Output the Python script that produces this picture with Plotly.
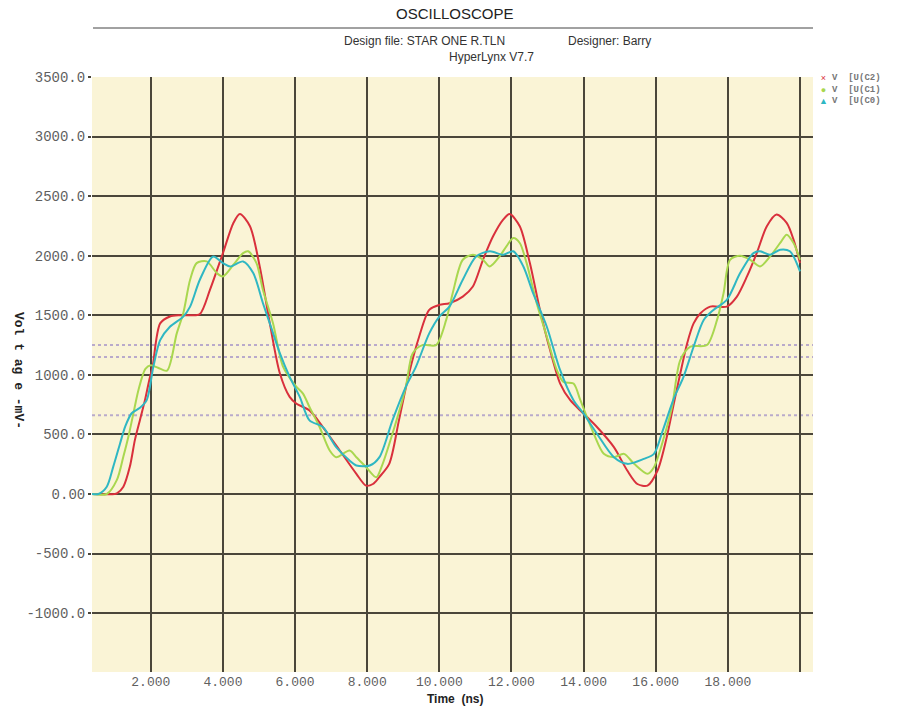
import plotly.graph_objects as go

# ---------------- data ----------------
t_c2 = [0.37, 1.0, 1.06, 1.24, 1.42, 1.56, 1.70, 1.84, 1.96, 2.05, 2.26, 2.53, 2.8, 3.1, 3.36, 3.64,
        4.0, 4.29, 4.47, 4.75, 5.02, 5.3, 5.58, 5.85, 6.04, 6.4, 6.77, 7.24, 7.7, 7.97, 8.16, 8.33,
        8.61, 8.88, 9.16, 9.44, 9.72, 10.0, 10.28, 10.65, 10.93, 11.21, 11.49, 11.77, 11.95, 12.23,
        12.51, 12.79, 13.07, 13.35, 13.63, 14.0, 14.37, 14.84, 15.21, 15.49, 15.77, 16.05, 16.3,
        16.5, 16.68, 16.87, 17.05, 17.24, 17.51, 17.97, 18.25, 18.53, 18.8, 19.08, 19.35, 19.63,
        19.82, 20.0]
v_c2 = [0, 0, 5, 61, 230, 454, 622, 790, 959, 1067, 1432, 1490, 1500, 1500, 1510, 1713,
        2022, 2275, 2350, 2247, 1910, 1432, 1011, 815, 758, 702, 562, 365, 169, 70, 84, 140,
        253, 618, 1011, 1320, 1545, 1587, 1601, 1657, 1742, 1966, 2163, 2303, 2350, 2247,
        1938, 1545, 1208, 927, 787, 674, 562, 393, 197, 84, 70, 197, 470,
        758, 1011, 1264, 1432, 1517, 1573, 1573, 1657, 1826, 2022, 2247, 2345, 2275,
        2135, 1938]

t_c1 = [0.37, 0.78, 1.06, 1.24, 1.38, 1.52, 1.66, 1.85, 2.0, 2.2, 2.45, 2.72, 2.9, 3.09, 3.27,
        3.55, 3.83, 4.0, 4.29, 4.56, 4.7, 4.93, 5.11, 5.39, 5.67, 6.04, 6.22, 6.4, 6.68, 6.96,
        7.14, 7.51, 7.7, 7.97, 8.25, 8.4, 8.7, 9.07, 9.26, 9.53, 9.91, 10.19, 10.37, 10.65, 10.93,
        11.21, 11.4, 11.67, 11.86, 12.05, 12.23, 12.42, 12.7, 12.98, 13.26, 13.44, 13.72, 13.91,
        14.28, 14.56, 14.84, 15.12, 15.4, 15.77, 15.95, 16.23, 16.45, 16.68, 16.96, 17.42, 17.7,
        17.88, 18.06, 18.34, 18.62, 18.89, 19.17, 19.45, 19.63, 19.82, 20.0]
v_c1 = [0, 0, 118, 314, 482, 680, 875, 1050, 1080, 1060, 1035, 1348, 1517, 1798, 1938,
        1952, 1854, 1826, 1924, 2022, 2037, 1938, 1713, 1432, 1067, 899, 843, 730, 562, 365,
        309, 365, 309, 225, 140, 230, 506, 899, 1180, 1250, 1250, 1461, 1685, 1966, 2008,
        1966, 1910, 1994, 2079, 2149, 2107, 1938, 1601, 1320, 1039, 941, 927, 787,
        506, 337, 309, 337, 253, 169, 225, 478, 730, 1123, 1236, 1250, 1461,
        1685, 1966, 2000, 1966, 1910, 1994, 2107, 2177, 2107, 1966]

t_c0 = [0.37, 0.55, 0.78, 0.96, 1.15, 1.29, 1.47, 1.70, 1.89, 2.07, 2.26, 2.53, 2.9, 3.09, 3.36,
        3.73, 4.0, 4.2, 4.56, 4.84, 5.11, 5.3, 5.58, 5.85, 6.13, 6.4, 6.77, 7.14, 7.51, 7.7, 8.07,
        8.34, 8.7, 9.07, 9.35, 9.72, 10.0, 10.28, 10.65, 11.02, 11.4, 11.77, 12.05, 12.33, 12.6,
        12.98, 13.35, 13.72, 14.0, 14.37, 14.84, 15.21, 15.67, 15.95, 16.18, 16.5, 16.77, 17.05,
        17.33, 17.6, 17.97, 18.34, 18.71, 18.89, 19.17, 19.45, 19.72, 20.0]
v_c0 = [0, 0, 61, 230, 426, 566, 678, 723, 790, 1067, 1292, 1404, 1489, 1573, 1798,
        1994, 1938, 1910, 1952, 1854, 1601, 1432, 1180, 983, 815, 618, 562, 393, 281, 239, 239,
        310, 618, 899, 1067, 1348, 1489, 1573, 1798, 1994, 2037, 2008, 2037, 1910, 1685,
        1404, 1039, 787, 674, 506, 309, 253, 295, 337, 520, 800, 983, 1236,
        1461, 1545, 1629, 1854, 2022, 2037, 2008, 2051, 2037, 1868]

series_names = ["V [U(C2)", "V [U(C1)", "V [U(C0)"]
series_colors = ["#d9303c", "#a9d74f", "#2fb7c3"]
legend_symbols = ["\u00d7", "\u25cf", "\u25b2"]

threshold_levels = [1250, 1150, 660]

x_tick_vals = [2, 4, 6, 8, 10, 12, 14, 16, 18, 20]
x_tick_text = ["2.000", "4.000", "6.000", "8.000", "10.000", "12.000", "14.000", "16.000", "18.000", ""]
y_tick_vals = [3500, 3000, 2500, 2000, 1500, 1000, 500, 0, -500, -1000]
y_tick_text = ["3500.0", "3000.0", "2500.0", "2000.0", "1500.0", "1000.0", "500.0", "0.00", "-500.0", "-1000.0"]

# ---------------- figure ----------------
W, H = 901, 708
ML, MR, MT, MB = 92, 88, 77, 36
PW, PH = W - ML - MR, H - MT - MB


def px(xp):
    return (xp - ML) / PW


def py(yp):
    return (H - MB - yp) / PH


fig = go.Figure()
for t, v, name, col in zip([t_c2, t_c1, t_c0], [v_c2, v_c1, v_c0], series_names, series_colors):
    fig.add_trace(go.Scatter(x=t, y=v, mode="lines", name=name,
                             line=dict(color=col, width=2, shape="spline", smoothing=0.8)))

for lvl in threshold_levels:
    fig.add_hline(y=lvl, line=dict(color="#b9aacb", width=2, dash="dot"), layer="below")

mono = "Liberation Mono, DejaVu Sans Mono, monospace"
sans = "Liberation Sans, Arial, sans-serif"
grid_col = "#4a463a"

fig.update_layout(
    width=W, height=H, autosize=False,
    margin=dict(l=ML, r=MR, t=MT, b=MB, pad=0),
    paper_bgcolor="white", plot_bgcolor="#faf4d6",
    showlegend=False,
    xaxis=dict(range=[0.37, 20.36], tickvals=x_tick_vals, ticktext=x_tick_text,
               showgrid=True, gridcolor=grid_col, gridwidth=2, zeroline=False,
               ticks="",
               tickfont=dict(family=mono, size=13, color="#5f5f5f"), showline=False),
    yaxis=dict(range=[-1494, 3500], tickvals=y_tick_vals, ticktext=y_tick_text,
               showgrid=True, gridcolor=grid_col, gridwidth=2, zeroline=False,
               ticks="outside", ticklen=3, tickwidth=2, tickcolor=grid_col,
               tickfont=dict(family=mono, size=14, color="#5f5f5f"), showline=False),
)

ann = []
ann.append(dict(text="OSCILLOSCOPE", x=px(455), y=py(14), font=dict(family=sans, size=15, color="#222")))
ann.append(dict(text="Design file: STAR ONE R.TLN", x=px(424), y=py(41), font=dict(family=sans, size=12, color="#333")))
ann.append(dict(text="Designer: Barry", x=px(609), y=py(41), font=dict(family=sans, size=12, color="#333")))
ann.append(dict(text="HyperLynx V7.7", x=px(491), y=py(57), font=dict(family=sans, size=12, color="#333")))
ann.append(dict(text="<b>Time  (ns)</b>", x=px(455), y=py(699), font=dict(family=sans, size=12, color="#222")))
ann.append(dict(text="<b>Vol t ag e -mV-</b>", x=px(19), y=py(370), textangle=90,
                font=dict(family=mono, size=13, color="#222")))

# legend drawn as two multi-line text blocks (symbols and labels)
sym_block = "<br>".join('<span style="color:%s">%s</span>' % (c, s)
                        for c, s in zip(series_colors, legend_symbols))
lab_block = "<br>".join("<b>" + n.replace(" ", "&nbsp;&nbsp;") + "</b>" for n in series_names)
ann.append(dict(text=sym_block, x=px(823), y=py(71), yanchor="top",
                font=dict(family=sans, size=9, color="#777")))
ann.append(dict(text=lab_block, x=px(830), y=py(71), yanchor="top", xanchor="left", align="left",
                font=dict(family=mono, size=9, color="#777")))

for a in ann:
    a.setdefault("xanchor", "center")
    a.setdefault("yanchor", "middle")
    a.update(xref="paper", yref="paper", showarrow=False)
    fig.add_annotation(**a)

fig.add_shape(type="line", xref="paper", yref="paper", x0=px(93), x1=px(813), y0=py(28), y1=py(28),
              line=dict(color="#444", width=1))

# remove the default 8px page margin so the figure fills the 901x708 window exactly
fig.write_html("out.html", config={"displayModeBar": False},
               post_script="document.body.style.margin='0px';")
